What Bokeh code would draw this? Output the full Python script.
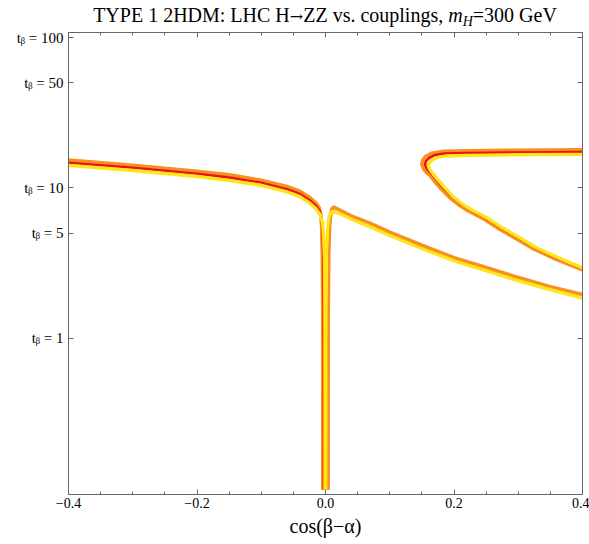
from bokeh.plotting import figure
from bokeh.models import Range1d, FixedTicker, LinearAxis, LogAxis, Div
from bokeh.layouts import column
from bokeh.embed import file_html
from bokeh.resources import INLINE

# ---------------- data ----------------
x_major_ticks = [-0.4, -0.2, 0.0, 0.2, 0.4]
x_minor_ticks = [-0.35, -0.3, -0.25, -0.15, -0.1, -0.05, 0.05, 0.1, 0.15, 0.25, 0.3, 0.35]
x_tick_labels = ["\u22120.4", "\u22120.2", "0.0", "0.2", "0.4"]
tb_ticks = [1, 5, 10, 50, 100]
tb_tick_numbers = ["1", "5", "10", "50", "100"]

# left branch (x < 0), dropping into the narrow dip at cos(beta-alpha)=0
orange_left_x = [-0.40, -0.30, -0.20, -0.15, -0.10, -0.06, -0.04, -0.025, -0.015, -0.010, -0.0075, -0.006, -0.0050, -0.0043, -0.0042]
orange_left_tb = [15.3, 14.15, 12.9, 12.2, 11.25, 10.2, 9.5, 8.65, 7.95, 7.4, 6.7, 5.6, 3.7, 1.5, 0.1]
red_left_x = [-0.40, -0.30, -0.20, -0.15, -0.10, -0.06, -0.04, -0.025, -0.015, -0.009, -0.006, -0.0045, -0.0033, -0.0027, -0.0026]
red_left_tb = [14.7, 13.6, 12.4, 11.7, 10.8, 9.8, 9.1, 8.3, 7.6, 7.0, 6.3, 5.2, 3.5, 1.5, 0.1]
yellow_left_x = [-0.40, -0.30, -0.20, -0.15, -0.10, -0.06, -0.04, -0.025, -0.015, -0.008, -0.0045, -0.003, -0.0015, -0.0009, -0.0008]
yellow_left_tb = [14.1, 13.05, 11.9, 11.2, 10.4, 9.4, 8.75, 7.95, 7.25, 6.6, 5.8, 4.8, 3.3, 1.5, 0.1]

# right branch (x > 0), rising out of the dip, small bump, then falling
orange_right_x = [0.0042, 0.0043, 0.0050, 0.0063, 0.008, 0.010, 0.013, 0.02, 0.04, 0.07, 0.10, 0.15, 0.20, 0.25, 0.30, 0.35, 0.40]
orange_right_tb = [0.1, 1.5, 3.6, 5.5, 6.6, 7.25, 7.45, 7.2, 6.5, 5.8, 5.07, 4.15, 3.43, 2.95, 2.53, 2.2, 1.95]
red_right_x = [0.0013, 0.0014, 0.0020, 0.0035, 0.0050, 0.0074, 0.0113, 0.02, 0.04, 0.07, 0.10, 0.15, 0.20, 0.25, 0.30, 0.35, 0.40]
red_right_tb = [0.1, 1.5, 3.32, 5.03, 6.03, 6.72, 6.97, 6.82, 6.21, 5.51, 4.83, 3.96, 3.28, 2.815, 2.415, 2.105, 1.855]
yellow_right_x = [0.0008, 0.0009, 0.0015, 0.003, 0.0045, 0.007, 0.011, 0.02, 0.04, 0.07, 0.10, 0.15, 0.20, 0.25, 0.30, 0.35, 0.40]
yellow_right_tb = [0.1, 1.5, 3.3, 5.0, 6.0, 6.7, 6.95, 6.8, 6.2, 5.5, 4.82, 3.95, 3.27, 2.81, 2.41, 2.1, 1.85]

# open loop on the right (top edge -> nose -> lower arm)
orange_loop_x = [0.40, 0.30, 0.22, 0.183, 0.166, 0.156, 0.151, 0.150, 0.153, 0.157, 0.162, 0.169, 0.179, 0.194, 0.209, 0.221, 0.249, 0.271, 0.298, 0.322, 0.358, 0.40]
orange_loop_tb = [17.9, 17.8, 17.65, 17.5, 17.0, 16.2, 15.2, 14.3, 13.3, 12.7, 12.2, 11.15, 9.95, 8.55, 7.62, 7.08, 6.12, 5.31, 4.56, 3.96, 3.36, 2.85]
red_loop_x = [0.40, 0.30, 0.22, 0.185, 0.170, 0.161, 0.156, 0.155, 0.158, 0.162, 0.166, 0.173, 0.183, 0.198, 0.213, 0.225, 0.253, 0.275, 0.302, 0.326, 0.362, 0.40]
red_loop_tb = [17.3, 17.2, 17.05, 16.9, 16.5, 15.8, 15.0, 14.3, 13.35, 12.8, 12.3, 11.28, 10.08, 8.67, 7.72, 7.17, 6.2, 5.38, 4.62, 4.01, 3.4, 2.915]
yellow_loop_x = [0.40, 0.30, 0.22, 0.188, 0.174, 0.166, 0.161, 0.160, 0.162, 0.165, 0.168, 0.175, 0.185, 0.199, 0.214, 0.226, 0.254, 0.276, 0.303, 0.327, 0.363, 0.40]
yellow_loop_tb = [16.7, 16.6, 16.45, 16.3, 15.9, 15.3, 14.6, 14.0, 13.3, 12.8, 12.3, 11.3, 10.1, 8.7, 7.75, 7.2, 6.22, 5.4, 4.64, 4.03, 3.42, 2.93]

title_main = "TYPE 1 2HDM: LHC H"
title_arrow = "\u2192"
title_mid = "ZZ vs. couplings, "
title_var = "m"
title_sub = "H"
title_tail = "=300 GeV"
x_label = "cos(\u03b2\u2212\u03b1)"
tb_prefix = "t\u1d66"

FONT = "Liberation Serif"
AXIS_COLOR = "#666666"

title = Div(
    text=('<div style="box-sizing:border-box;width:589px;padding-left:61px;padding-top:4px;'
          'text-align:center;font-family:\'Liberation Serif\',serif;font-size:20px;line-height:22px;'
          'white-space:nowrap;color:black;">'
          + title_main
          + '<span style="font-family:\'DejaVu Serif\',serif;font-size:16px;">' + title_arrow + '</span>'
          + title_mid + '<i>' + title_var + '</i>'
          + '<i style="font-size:14px;position:relative;top:4px;">' + title_sub + '</i>'
          + title_tail + '</div>'),
    width=589, height=28, margin=(0, 0, 0, 0))

p = figure(width=589, height=516, x_range=Range1d(-0.4, 0.4), y_range=Range1d(0.0912, 108),
           y_axis_type="log", output_backend="svg", toolbar_location=None,
           min_border_left=68, min_border_right=7, min_border_top=4, min_border_bottom=50,
           margin=(0, 0, 0, 0))
p.xgrid.visible = False
p.ygrid.visible = False
p.outline_line_color = AXIS_COLOR
p.background_fill_color = "white"
p.border_fill_color = "white"

ORANGE, RED, YELLOW = "#F7901E", "#EE1111", "#FFE61A"
for xs, ys in [(orange_left_x, orange_left_tb), (orange_right_x, orange_right_tb), (orange_loop_x, orange_loop_tb)]:
    p.line(xs, ys, line_color=ORANGE, line_width=3.6, line_join="round", line_cap="round")
for xs, ys in [(red_left_x, red_left_tb), (red_right_x, red_right_tb), (red_loop_x, red_loop_tb)]:
    p.line(xs, ys, line_color=RED, line_width=2.6, line_join="round", line_cap="round")
for xs, ys in [(yellow_left_x, yellow_left_tb), (yellow_right_x, yellow_right_tb), (yellow_loop_x, yellow_loop_tb)]:
    p.line(xs, ys, line_color=YELLOW, line_width=3.4, line_join="round", line_cap="round")

# bottom axis
xb = p.xaxis[0]
xb.ticker = FixedTicker(ticks=x_major_ticks, minor_ticks=x_minor_ticks)
xb.major_label_overrides = {t: l for t, l in zip(x_major_ticks, x_tick_labels)}
xb.major_label_text_font = FONT
xb.major_label_text_font_size = "14px"
xb.major_label_text_color = "black"
xb.major_label_standoff = 3
xb.axis_label = x_label
xb.axis_label_text_font = FONT
xb.axis_label_text_font_size = "20px"
xb.axis_label_text_font_style = "normal"
xb.axis_label_text_color = "black"
xb.axis_label_standoff = 4

# left axis
yl = p.yaxis[0]
yl.ticker = FixedTicker(ticks=tb_ticks, minor_ticks=[])
yl.major_label_overrides = {t: tb_prefix + " = " + n for t, n in zip(tb_ticks, tb_tick_numbers)}
yl.major_label_text_font = FONT
yl.major_label_text_font_size = "15px"
yl.major_label_text_color = "black"
yl.major_label_standoff = 5

for ax in [xb, yl]:
    ax.axis_line_color = AXIS_COLOR
    ax.major_tick_line_color = AXIS_COLOR
    ax.minor_tick_line_color = AXIS_COLOR
    ax.major_tick_in = 5
    ax.major_tick_out = 0
    ax.minor_tick_in = 3
    ax.minor_tick_out = 0

# mirrored top and right axes (ticks only)
xt = LinearAxis(ticker=FixedTicker(ticks=x_major_ticks, minor_ticks=x_minor_ticks))
yr = LogAxis(ticker=FixedTicker(ticks=tb_ticks, minor_ticks=[]))
for ax in [xt, yr]:
    ax.axis_line_color = AXIS_COLOR
    ax.major_tick_line_color = AXIS_COLOR
    ax.minor_tick_line_color = AXIS_COLOR
    ax.major_tick_in = 5
    ax.major_tick_out = 0
    ax.minor_tick_in = 3
    ax.minor_tick_out = 0
    ax.major_label_text_font_size = "0px"
    ax.major_label_text_color = None
    ax.major_label_standoff = 0
p.add_layout(xt, "above")
p.add_layout(yr, "right")

layout = column(title, p, spacing=0, margin=(0, 0, 0, 0))
open("out.html", "w").write(file_html(layout, INLINE))
